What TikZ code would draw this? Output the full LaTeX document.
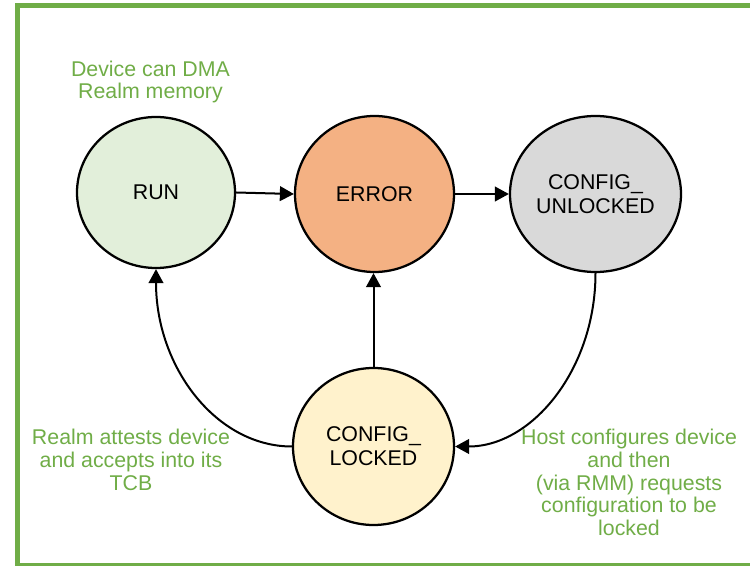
\documentclass[tikz,border=0pt]{standalone}
\usepackage{fontspec}
\setmainfont{Liberation Sans}
\usetikzlibrary{shapes.geometric,arrows.meta,calc}

\definecolor{framegreen}{HTML}{70AD47}
\definecolor{runfill}{HTML}{E2EFDA}
\definecolor{errfill}{HTML}{F4B183}
\definecolor{unlockfill}{HTML}{D9D9D9}
\definecolor{lockfill}{HTML}{FFF2CC}

\tikzset{
  state/.style={ellipse, draw=black, line width=1.7pt, inner sep=0pt,
    align=center, font=\fontsize{16}{18.2}\selectfont},
  note/.style={text=framegreen, inner sep=0pt, align=center,
    font=\fontsize{16}{17}\selectfont},
  flow/.style={draw=black, line width=1.5pt,
    -{Triangle[length=10.5pt,width=11pt]}}
}

\begin{document}
\begin{tikzpicture}[x=0.75pt,y=-0.75pt]
  \useasboundingbox (0,0) rectangle (750,566);

  % outer frame (right side runs past the page edge)
  \draw[framegreen, line width=3.75pt] (17.5,5.5) rectangle (762,565.5);

  % states
  \node[state, fill=runfill, minimum width=118.5pt, minimum height=113.25pt]
    (run) at (156,192.5) {RUN};
  \node[state, fill=errfill, minimum width=119.25pt, minimum height=117pt]
    (err) at (374.5,194) {ERROR};
  \node[state, fill=unlockfill, minimum width=128.25pt, minimum height=117pt]
    (unl) at (595.5,194) {CONFIG\_\\UNLOCKED};
  \node[state, fill=lockfill, minimum width=120.75pt, minimum height=117.75pt]
    (lck) at (373.5,446.5) {CONFIG\_\\LOCKED};

  % transitions
  \draw[flow] (run.east) -- (err.west);
  \draw[flow] (err.east) -- (unl.west);
  \draw[flow] (lck.north) -- (lck.north |- err.south);
  \draw[flow] (lck.west) .. controls ($(lck.west)+(-75.6,0)$)
    and ($(run.south)+(0,98)$) .. (run.south);
  \draw[flow] (unl.south) .. controls ($(unl.south)+(0,96)$)
    and ($(lck.east)+(77,0)$) .. (lck.east);

  % annotations
  \node[note] (dma) at (150.5,82.1) {Device can DMA\\Realm memory};
  \node[note] (att) at (131,459.9) {Realm attests device\\and accepts into its\\TCB};
  \node[note] (host) at (629,482.5) {Host configures device\\and then\\(via RMM) requests\\configuration to be\\locked};
\end{tikzpicture}
\end{document}
